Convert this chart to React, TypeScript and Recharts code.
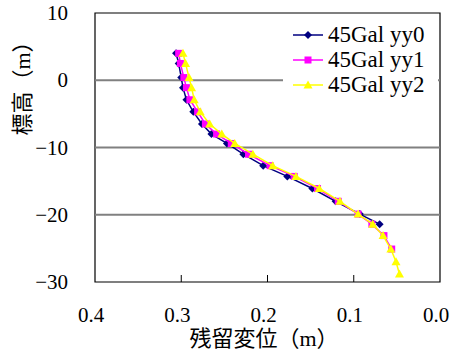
import React from 'react';
import {
  ScatterChart,
  Scatter,
  XAxis,
  YAxis,
  ReferenceLine,
  ReferenceArea,
  Legend,
} from 'recharts';

// 標高 (m) — common depths of the output points
const DEPTH = [4.0, 2.5, 0.4, -1.1, -2.9, -4.7, -6.5, -8.0, -9.4, -11.0, -12.7, -14.3, -16.1, -18.0, -19.9, -21.4, -23.1, -25.1, -27.0, -28.8];

// 残留変位 (m) per case
const YY0 = [0.306, 0.303, 0.3, 0.298, 0.294, 0.286, 0.276, 0.265, 0.247, 0.228, 0.205, 0.177, 0.148, 0.121, 0.093, 0.07];
const YY1 = [0.303, 0.301, 0.297, 0.294, 0.29, 0.281, 0.272, 0.259, 0.242, 0.222, 0.197, 0.169, 0.142, 0.118, 0.095, 0.079, 0.065, 0.056];
const YY2 = [0.298, 0.295, 0.291, 0.288, 0.285, 0.278, 0.267, 0.253, 0.238, 0.217, 0.194, 0.167, 0.14, 0.116, 0.095, 0.078, 0.066, 0.057, 0.051, 0.047];

const X_TICKS = [0, 0.1, 0.2, 0.3, 0.4];
const Y_TICKS = [-30, -20, -10, 0, 10];
const GRID_Y = [0, -10, -20];

const FONT = "'Liberation Serif', 'Noto Sans CJK JP', serif";

const toPoints = (xs: number[]) => xs.map((x, i) => ({ x, y: DEPTH[i] }));

type Kind = 'diamond' | 'square' | 'triangle';

const SERIES: { name: string; color: string; kind: Kind; data: { x: number; y: number }[] }[] = [
  { name: '45Gal yy0', color: '#000080', kind: 'diamond', data: toPoints(YY0) },
  { name: '45Gal yy1', color: '#FF00FF', kind: 'square', data: toPoints(YY1) },
  { name: '45Gal yy2', color: '#FFFF00', kind: 'triangle', data: toPoints(YY2) },
];

const Marker = ({ cx, cy, kind, color }: { cx: number; cy: number; kind: Kind; color: string }) => {
  if (kind === 'diamond') {
    const r = 4;
    return <polygon points={`${cx},${cy - r} ${cx + r},${cy} ${cx},${cy + r} ${cx - r},${cy}`} fill={color} />;
  }
  if (kind === 'square') {
    const r = 3.5;
    return <rect x={cx - r} y={cy - r} width={r * 2} height={r * 2} fill={color} />;
  }
  const r = 4.5;
  return <polygon points={`${cx},${cy - r} ${cx + r},${cy + r - 1} ${cx - r},${cy + r - 1}`} fill={color} />;
};

const XTick = ({ x, y, payload }: any) => {
  const v = payload.value as number;
  const inner = v > 0 && v < 0.4;
  return (
    <g>
      {inner && <line x1={x} y1={y} x2={x} y2={y - 7} stroke="#000" strokeWidth={1} />}
      <text x={x - 4} y={y + 40} textAnchor="middle" fontSize={21} fontFamily={FONT} fill="#000">
        {v.toFixed(1)}
      </text>
    </g>
  );
};

const YTick = ({ x, y, payload }: any) => {
  const v = payload.value as number;
  return (
    <text x={x - 27} y={y + 7} textAnchor="end" fontSize={21} fontFamily={FONT} fill="#000">
      {String(v).replace('-', '\u2212')}
    </text>
  );
};

const LegendContent = () => (
  <div style={{ fontFamily: FONT, fontSize: 23, lineHeight: '25px', color: '#000' }}>
    {SERIES.map((s) => (
      <div key={s.name} style={{ display: 'flex', alignItems: 'center', height: 25 }}>
        <svg width={30} height={12} style={{ marginLeft: 10, marginRight: 5 }}>
          <line x1={0} y1={6} x2={30} y2={6} stroke={s.color} strokeWidth={1.5} />
          <Marker cx={15} cy={6} kind={s.kind} color={s.color} />
        </svg>
        <span>{s.name}</span>
      </div>
    ))}
  </div>
);

export default function App() {
  return (
    <div style={{ position: 'absolute', left: 0, top: 0, background: '#fff' }}>
      <ScatterChart width={457} height={360} margin={{ top: 13, right: 17, bottom: 0, left: 0 }}>
        <XAxis
          type="number"
          dataKey="x"
          domain={[0, 0.4]}
          reversed
          ticks={X_TICKS}
          interval={0}
          axisLine={false}
          tickLine={false}
          tickSize={0}
          tickMargin={0}
          tick={<XTick />}
          height={78}
          allowDataOverflow
          label={{
            content: () => (
              <text x={264} y={346} textAnchor="middle" fontSize={22} fontFamily={FONT} fill="#000">
                残留変位（m）
              </text>
            ),
          }}
        />
        <YAxis
          type="number"
          dataKey="y"
          domain={[-30, 10]}
          ticks={Y_TICKS}
          interval={0}
          axisLine={false}
          tickLine={false}
          tickSize={0}
          tickMargin={0}
          tick={<YTick />}
          width={95}
          allowDataOverflow
          label={{
            content: () => (
              <text
                x={22}
                y={83}
                transform="rotate(-90 22 83)"
                textAnchor="middle"
                dominantBaseline="central"
                fontSize={22}
                fontFamily={FONT}
                fill="#000"
              >
                標高（m）
              </text>
            ),
          }}
        />
        {GRID_Y.map((g) => (
          <ReferenceLine key={g} y={g} stroke="#808080" strokeWidth={2} />
        ))}
        <ReferenceArea x1={0} x2={0.4} y1={-30} y2={10} fill="none" stroke="#000" strokeWidth={1.2} />
        {SERIES.map((s) => (
          <Scatter
            key={s.name}
            name={s.name}
            data={s.data}
            line={{ stroke: s.color, strokeWidth: 1.5 }}
            shape={(p: any) => <Marker cx={p.cx} cy={p.cy} kind={s.kind} color={s.color} />}
            isAnimationActive={false}
          />
        ))}
        <Legend
          layout="horizontal"
          verticalAlign="middle"
          align="center"
          content={<LegendContent />}
          wrapperStyle={{ left: 283, top: 22, width: 155, height: 76, background: '#fff' }}
        />
      </ScatterChart>
    </div>
  );
}
